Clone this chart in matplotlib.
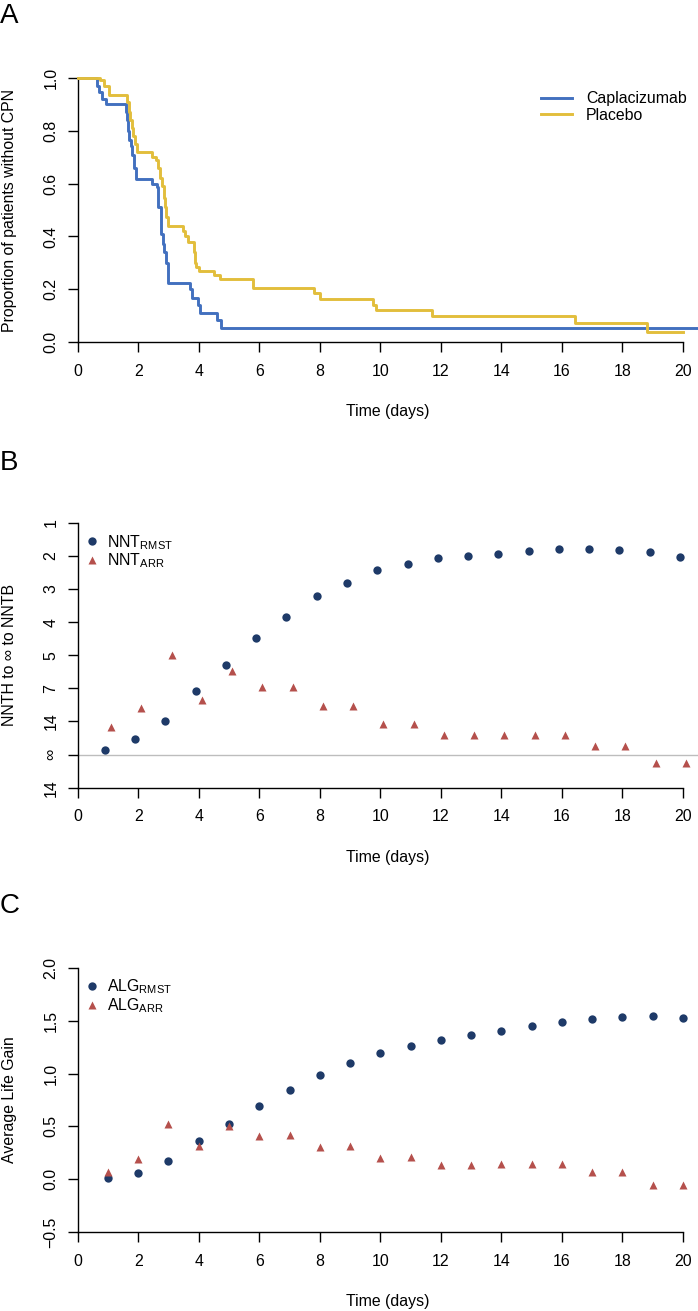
import matplotlib
matplotlib.use('Agg')
import matplotlib.pyplot as plt
import numpy as np

plt.rcParams['font.family'] = ['Liberation Sans', 'DejaVu Sans']
plt.rcParams['mathtext.fontset'] = 'custom'
plt.rcParams['mathtext.rm'] = 'Liberation Sans'
plt.rcParams['mathtext.it'] = 'Liberation Sans:italic'
plt.rcParams['mathtext.bf'] = 'Liberation Sans:bold'

# ---------------- data ----------------
# Panel A: Kaplan-Meier step curves (time in days, proportion without CPN)
capla_time = [0, 0.64, 0.72, 0.80, 0.92, 1.60, 1.63, 1.66, 1.70, 1.75, 1.80, 1.85, 1.92,
              2.45, 2.62, 2.67, 2.75, 2.81, 2.86, 2.92, 2.98, 3.70, 3.78, 3.99, 4.03,
              4.61, 4.72, 20.5]
capla_surv = [1.0, 0.97, 0.945, 0.92, 0.90, 0.87, 0.84, 0.80, 0.765, 0.74, 0.708, 0.66, 0.617,
              0.60, 0.588, 0.51, 0.41, 0.37, 0.34, 0.30, 0.223, 0.20, 0.169, 0.141, 0.11,
              0.084, 0.055, 0.055]
placebo_time = [0, 0.74, 0.87, 1.02, 1.63, 1.68, 1.72, 1.78, 1.84, 1.90, 1.96,
                2.45, 2.60, 2.67, 2.73, 2.80, 2.84, 2.88, 2.93, 2.99,
                3.48, 3.56, 3.64, 3.84, 3.88, 3.91, 4.0, 4.5, 4.70,
                5.78, 7.81, 8.01, 9.77, 9.86, 11.72, 16.42, 18.81, 20.02]
placebo_surv = [1.0, 0.99, 0.97, 0.934, 0.91, 0.87, 0.84, 0.81, 0.78, 0.75, 0.72,
                0.70, 0.69, 0.657, 0.62, 0.59, 0.544, 0.51, 0.475, 0.441,
                0.42, 0.40, 0.38, 0.34, 0.30, 0.286, 0.27, 0.253, 0.238,
                0.204, 0.185, 0.163, 0.141, 0.122, 0.10, 0.074, 0.038, 0.038]

# Panels B and C: evaluation days
days = list(range(1, 21))

# Panel B: position on the NNT axis (1 = NNTB 1 ... 8 = infinity, 9 = NNTH 14)
nnt_ticks = [1, 2, 3, 4, 5, 6, 7, 8, 9]
nnt_tick_labels = ['1', '2', '3', '4', '5', '7', '14', '\u221e', '14']
nnt_infinity_pos = 8
nnt_rmst_pos = [7.85, 7.54, 6.99, 6.07, 5.31, 4.49, 3.84, 3.22, 2.81, 2.44,
                2.24, 2.08, 2.00, 1.93, 1.86, 1.79, 1.78, 1.81, 1.87, 2.05]
nnt_arr_pos = [7.18, 6.60, 4.99, 6.35, 5.49, 5.97, 5.97, 6.54, 6.53, 7.08,
               7.08, 7.40, 7.40, 7.40, 7.40, 7.40, 7.75, 7.75, 8.25, 8.25]

# Panel C: Average life gain
alg_rmst = [0.01, 0.063, 0.177, 0.366, 0.527, 0.697, 0.845, 0.99, 1.097, 1.195,
            1.261, 1.318, 1.362, 1.403, 1.447, 1.488, 1.513, 1.532, 1.542, 1.523]
alg_arr = [0.066, 0.19, 0.52, 0.315, 0.50, 0.41, 0.42, 0.31, 0.315, 0.205,
           0.21, 0.139, 0.14, 0.143, 0.146, 0.15, 0.066, 0.069, -0.057, -0.057]

x_ticks = list(range(0, 21, 2))
a_yticks = [0.0, 0.2, 0.4, 0.6, 0.8, 1.0]
c_yticks = [-0.5, 0.0, 0.5, 1.0, 1.5, 2.0]

# ---------------- style ----------------
BLUE = '#4270BF'
GOLD = '#E2BE3C'
NAVY = '#1E3A68'
RED = '#B5504C'
FS = 11.4
W, H = 698, 1311
LEFT, RIGHT = 77.7, 698.0
XMAX = 20.5

fig = plt.figure(figsize=(W / 100, H / 100), dpi=100)


def make_axes(top, bottom):
    return fig.add_axes([LEFT / W, 1 - bottom / H, (RIGHT - LEFT) / W, (bottom - top) / H])


def style_axes(ax, top, bottom, ybounds, xlabel, ylabel):
    ax.spines['top'].set_visible(False)
    ax.spines['right'].set_visible(False)
    for s in ('left', 'bottom'):
        ax.spines[s].set_linewidth(1.0)
    ax.spines['bottom'].set_bounds(0, 20)
    ax.spines['left'].set_bounds(*ybounds)
    ax.set_xlim(0, XMAX)
    ax.set_xticks(x_ticks)
    ax.tick_params(axis='x', length=7, width=1.0, pad=8.3, labelsize=FS, direction='out')
    ax.tick_params(axis='y', length=7.2, width=1.0, pad=6.7, labelsize=FS, direction='out',
                   labelrotation=90)
    for lab in ax.get_yticklabels():
        lab.set_verticalalignment('center')
    hpx = bottom - top
    wpx = RIGHT - LEFT
    ax.set_xlabel(xlabel, fontsize=FS, va='center')
    ax.xaxis.set_label_coords((388 - LEFT) / wpx, -69.4 / hpx)
    ax.set_ylabel(ylabel, fontsize=FS, va='center')
    ax.yaxis.set_label_coords((9.5 - LEFT) / wpx, 0.5)


def legend_at(ax, handles, labels, x_px, y_px, **kw):
    leg = ax.legend(handles, labels, loc='center left',
                    bbox_to_anchor=(x_px / W, 1 - y_px / H),
                    bbox_transform=fig.transFigure, frameon=False, fontsize=FS,
                    borderpad=0, borderaxespad=0, **kw)
    return leg


# ---------------- Panel A ----------------
topA, botA = 77.7, 342.3
axA = make_axes(topA, botA)
lc, = axA.step(capla_time, capla_surv, where='post', color=BLUE, lw=2.1, clip_on=False, zorder=3)
lp, = axA.step(placebo_time, placebo_surv, where='post', color=GOLD, lw=2.1, clip_on=False, zorder=4)
axA.set_ylim(0, 1)
axA.set_yticks(a_yticks)
axA.set_yticklabels([f'{v:.1f}' for v in a_yticks])
style_axes(axA, topA, botA, (0, 1), 'Time (days)', 'Proportion of patients without CPN')
legend_at(axA, [lc, lp], ['Caplacizumab', 'Placebo'], 541, 107.0,
          handlelength=1.98, handletextpad=0.86, labelspacing=0.08)

# ---------------- Panel B ----------------
topB, botB = 522.7, 787.7
axB = make_axes(topB, botB)
axB.axhline(nnt_infinity_pos, color='#BDBDBD', lw=1.0, zorder=1)
x_rmst = np.array(days) - 0.1
x_arr = np.array(days) + 0.1
hb1, = axB.plot(x_rmst, nnt_rmst_pos, 'o', color=NAVY, ms=6.0, mec='none', zorder=3)
hb2, = axB.plot(x_arr, nnt_arr_pos, '^', color=RED, ms=6.3, mec='none', zorder=3)
axB.set_ylim(9, 1)
axB.set_yticks(nnt_ticks)
axB.set_yticklabels(nnt_tick_labels)
style_axes(axB, topB, botB, (1, 9), 'Time (days)', 'NNTH to \u221e to NNTB')
legend_at(axB, [hb1, hb2], [r'NNT$_{\mathregular{RMST}}$', r'NNT$_{\mathregular{ARR}}$'],
          84.4, 551.5, handlelength=1.0, handletextpad=0.45, labelspacing=0.0)

# ---------------- Panel C ----------------
topC, botC = 967.7, 1232.3
axC = make_axes(topC, botC)
hc1, = axC.plot(days, alg_rmst, 'o', color=NAVY, ms=6.0, mec='none', zorder=3)
hc2, = axC.plot(days, alg_arr, '^', color=RED, ms=6.3, mec='none', zorder=3)
axC.set_ylim(-0.5, 2.0)
axC.set_yticks(c_yticks)
axC.set_yticklabels([f'{v:.1f}'.replace('-', '\u2212') for v in c_yticks])
style_axes(axC, topC, botC, (-0.5, 2.0), 'Time (days)', 'Average Life Gain')
legend_at(axC, [hc1, hc2], [r'ALG$_{\mathregular{RMST}}$', r'ALG$_{\mathregular{ARR}}$'],
          84.4, 996.2, handlelength=1.0, handletextpad=0.45, labelspacing=0.0)

# ---------------- Panel letters ----------------
for letter, base in (('A', 23.3), ('B', 470.0), ('C', 913.3)):
    fig.text(0.0, 1 - base / H, letter, fontsize=20, ha='left', va='baseline')

fig.savefig('out.png', dpi=100)
